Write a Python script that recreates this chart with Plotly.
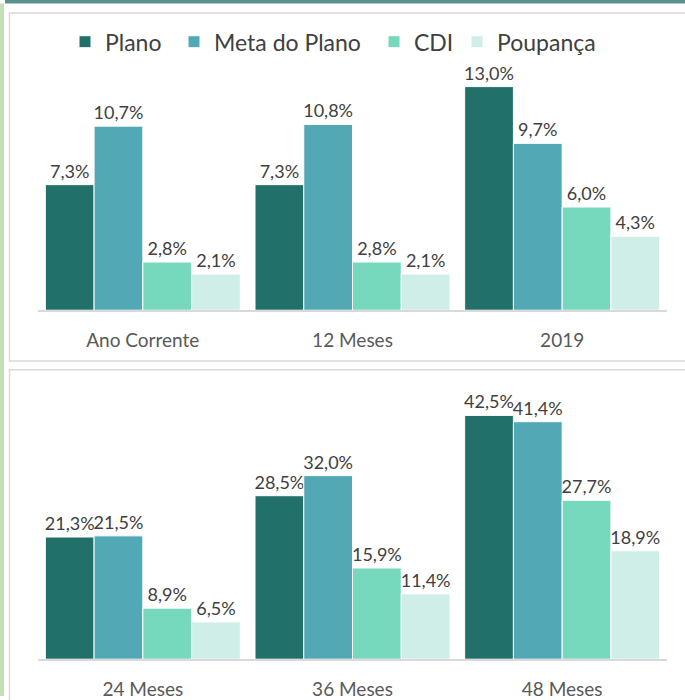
import plotly.graph_objects as go

W, H = 685, 700

series_names = ["Plano", "Meta do Plano", "CDI", "Poupança"]
series_colors = ["#22706a", "#52a8b4", "#76d8bc", "#d0eee8"]

categories_top = ["Ano Corrente", "12 Meses", "2019"]
plano_top = [7.3, 7.3, 13.0]
meta_top = [10.7, 10.8, 9.7]
cdi_top = [2.8, 2.8, 6.0]
poupanca_top = [2.1, 2.1, 4.3]

categories_bottom = ["24 Meses", "36 Meses", "48 Meses"]
plano_bottom = [21.3, 28.5, 42.5]
meta_bottom = [21.5, 32.0, 41.4]
cdi_bottom = [8.9, 15.9, 27.7]
poupanca_bottom = [6.5, 11.4, 18.9]

FONT = "Lato"
fig = go.Figure()


def px_x(v):
    return v / W


def px_y(v):
    return 1 - v / H


top_vals = [plano_top, meta_top, cdi_top, poupanca_top]
bot_vals = [plano_bottom, meta_bottom, cdi_bottom, poupanca_bottom]
legend_ids = ["legend", "legend2", "legend3", "legend4"]
legend_icon_centers = [85, 194, 394, 477]

for i, name in enumerate(series_names):
    fig.add_trace(go.Bar(
        x=categories_top, y=top_vals[i], name=name,
        marker=dict(color=series_colors[i], line=dict(color="white", width=1)),
        texttemplate="%{y:.1f}%", textposition="outside",
        textfont=dict(size=18, color="#404040", family=FONT),
        constraintext="none", cliponaxis=False,
        legend=legend_ids[i], showlegend=True,
        xaxis="x", yaxis="y", hoverinfo="skip",
    ))
for i, name in enumerate(series_names):
    fig.add_trace(go.Bar(
        x=categories_bottom, y=bot_vals[i], name=name,
        marker=dict(color=series_colors[i], line=dict(color="white", width=1)),
        texttemplate="%{y:.1f}%", textposition="outside",
        textfont=dict(size=18, color="#404040", family=FONT),
        constraintext="none", cliponaxis=False,
        showlegend=False,
        xaxis="x2", yaxis="y2", hoverinfo="skip",
    ))

xdom = [px_x(38), px_x(667)]
common_x = dict(
    domain=xdom, showline=True, linecolor="#d9d9d9", linewidth=1.5,
    ticks="outside", ticklen=12, tickcolor="rgba(0,0,0,0)",
    tickfont=dict(size=19, color="#595959", family=FONT),
    showgrid=False, zeroline=False, fixedrange=True,
)
common_y = dict(showgrid=False, zeroline=False, showticklabels=False,
                showline=False, fixedrange=True)

top_base, top_top = 312, 61
bot_base, bot_top = 663, 401

legends = {}
for i, lid in enumerate(legend_ids):
    legends[lid] = dict(
        orientation="h", x=px_x(legend_icon_centers[i] - 20), xanchor="left",
        y=px_y(42), yanchor="middle",
        font=dict(size=23, color="#404040", family=FONT),
        bgcolor="rgba(0,0,0,0)", itemclick=False, itemdoubleclick=False,
        borderwidth=0,
    )

fig.update_layout(
    width=W, height=H,
    margin=dict(l=0, r=0, t=0, b=0),
    paper_bgcolor="white", plot_bgcolor="rgba(0,0,0,0)",
    separators=",.",
    barmode="group", bargap=0.07, bargroupgap=0,
    font=dict(family=FONT, color="#404040"),
    xaxis=dict(**common_x, anchor="y"),
    yaxis=dict(**common_y, domain=[px_y(top_base), px_y(top_top)],
               range=[0, (top_base - top_top) / 17.3]),
    xaxis2=dict(**common_x, anchor="y2"),
    yaxis2=dict(**common_y, domain=[px_y(bot_base), px_y(bot_top)],
                range=[0, (bot_base - bot_top) / 5.77]),
    shapes=[
        dict(type="rect", xref="paper", yref="paper", x0=px_x(5), x1=1,
             y0=px_y(3.5), y1=1, fillcolor="#5b9090", line=dict(width=0), layer="below"),
        dict(type="rect", xref="paper", yref="paper", x0=0, x1=px_x(4),
             y0=0, y1=px_y(3.5), fillcolor="#c5e0b4", line=dict(width=0), layer="below"),
        dict(type="rect", xref="paper", yref="paper", x0=px_x(9.5), x1=px_x(700),
             y0=px_y(363), y1=px_y(13), line=dict(color="#d9d9d9", width=1.5),
             fillcolor="rgba(0,0,0,0)", layer="below"),
        dict(type="rect", xref="paper", yref="paper", x0=px_x(9.5), x1=px_x(700),
             y0=px_y(720), y1=px_y(372), line=dict(color="#d9d9d9", width=1.5),
             fillcolor="rgba(0,0,0,0)", layer="below"),
    ],
    **legends,
)

fig.write_html(
    "out.html",
    config={"displayModeBar": False},
    post_script="document.body.style.margin='0px';document.body.style.overflow='hidden';",
)
